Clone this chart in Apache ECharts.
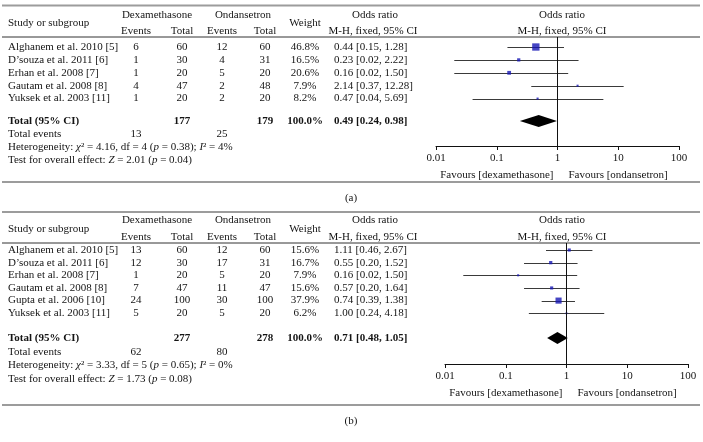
<!DOCTYPE html>
<html>
<head>
<meta charset="utf-8">
<script src="https://cdn.jsdelivr.net/npm/echarts@6/dist/echarts.min.js"></script>
<style>
  html, body { margin: 0; padding: 0; background: #fff; }
  #chart { width: 703px; height: 442px; }
</style>
</head>
<body>
<div id="chart"></div>
<script>
// ---- panel (a) ----
var studiesA   = ['Alghanem et al. 2010 [5]', 'D\u2019souza et al. 2011 [6]', 'Erhan et al. 2008 [7]', 'Gautam et al. 2008 [8]', 'Yuksek et al. 2003 [11]'];
var dexEventsA = [6, 1, 1, 4, 1];
var dexTotalA  = [60, 30, 20, 47, 20];
var ondEventsA = [12, 4, 5, 2, 2];
var ondTotalA  = [60, 31, 20, 48, 20];
var weightA    = [46.8, 16.5, 20.6, 7.9, 8.2];
var orA        = [0.44, 0.23, 0.16, 2.14, 0.47];
var loA        = [0.15, 0.02, 0.02, 0.37, 0.04];
var hiA        = [1.28, 2.22, 1.50, 12.28, 5.69];
var totalsA    = [177, 179];          // dex total, ond total
var eventsA    = [13, 25];            // total events
var pooledA    = [0.49, 0.24, 0.98];  // OR, lo, hi
var hetA       = ['4.16', '4', '0.38', '4'];  // chi2, df, p, I2
var effectA    = ['2.01', '0.04'];            // Z, p

// ---- panel (b) ----
var studiesB   = ['Alghanem et al. 2010 [5]', 'D\u2019souza et al. 2011 [6]', 'Erhan et al. 2008 [7]', 'Gautam et al. 2008 [8]', 'Gupta et al. 2006 [10]', 'Yuksek et al. 2003 [11]'];
var dexEventsB = [13, 12, 1, 7, 24, 5];
var dexTotalB  = [60, 30, 20, 47, 100, 20];
var ondEventsB = [12, 17, 5, 11, 30, 5];
var ondTotalB  = [60, 31, 20, 47, 100, 20];
var weightB    = [15.6, 16.7, 7.9, 15.6, 37.9, 6.2];
var orB        = [1.11, 0.55, 0.16, 0.57, 0.74, 1.00];
var loB        = [0.46, 0.20, 0.02, 0.20, 0.39, 0.24];
var hiB        = [2.67, 1.52, 1.50, 1.64, 1.38, 4.18];
var totalsB    = [277, 278];
var eventsB    = [62, 80];
var pooledB    = [0.71, 0.48, 1.05];
var hetB       = ['3.33', '5', '0.65', '0'];
var effectB    = ['1.73', '0.08'];

var tickLabels = ['0.01', '0.1', '1', '10', '100'];

var FAMILY = '"Liberation Serif", "DejaVu Serif", serif';
var FS = 11;
var INK = '#141414';

var graphics = [];
var grids = [], xAxes = [], yAxes = [], series = [];

function fmt(v) { return v.toFixed(2); }

function txt(x, y, s, align, bold) {
  graphics.push({
    type: 'text', x: x, y: y, silent: true,
    style: {
      text: s, fill: INK, fontFamily: FAMILY, fontSize: FS,
      fontWeight: bold ? 'bold' : 'normal',
      textAlign: align || 'left', textVerticalAlign: 'middle', verticalAlign: 'middle',
      rich: {
        it: { fontFamily: FAMILY, fontSize: FS, fontStyle: 'italic', fill: INK }
      }
    }
  });
}

function rule(y, color, w) {
  graphics.push({
    type: 'line', silent: true,
    shape: { x1: 2, y1: y, x2: 700, y2: y },
    style: { stroke: color, lineWidth: w }
  });
}

function panel(d, L, idx) {
  var rowY = function (i) { return L.y0 + i * L.step; };
  var n = d.studies.length;

  rule(L.top, '#9c9c9c', 2);
  rule(L.sep, '#333', 1);
  rule(L.bottom, '#9c9c9c', 2);

  // headers
  txt(8, L.hMid, 'Study or subgroup');
  txt(157, L.h1, 'Dexamethasone', 'center');
  txt(243, L.h1, 'Ondansetron', 'center');
  txt(136, L.h2, 'Events', 'center');
  txt(182, L.h2, 'Total', 'center');
  txt(222, L.h2, 'Events', 'center');
  txt(265, L.h2, 'Total', 'center');
  txt(305, L.hMid, 'Weight', 'center');
  txt(375, L.h1, 'Odds ratio', 'center');
  txt(373, L.h2, 'M-H, fixed, 95% CI', 'center');
  txt(562, L.h1, 'Odds ratio', 'center');
  txt(562, L.h2, 'M-H, fixed, 95% CI', 'center');

  // study rows
  for (var i = 0; i < n; i++) {
    var y = rowY(i);
    txt(8, y, d.studies[i]);
    txt(136, y, String(d.dexEvents[i]), 'center');
    txt(182, y, String(d.dexTotal[i]), 'center');
    txt(222, y, String(d.ondEvents[i]), 'center');
    txt(265, y, String(d.ondTotal[i]), 'center');
    txt(305, y, d.weight[i].toFixed(1) + '%', 'center');
    txt(334, y, fmt(d.or[i]) + ' [' + fmt(d.lo[i]) + ', ' + fmt(d.hi[i]) + ']');
  }

  // summary rows
  var ty = L.total;
  txt(8, ty, 'Total (95% CI)', 'left', true);
  txt(182, ty, String(d.totals[0]), 'center', true);
  txt(265, ty, String(d.totals[1]), 'center', true);
  txt(305, ty, '100.0%', 'center', true);
  txt(334, ty, fmt(d.pooled[0]) + ' [' + fmt(d.pooled[1]) + ', ' + fmt(d.pooled[2]) + ']', 'left', true);
  txt(8, ty + L.sstep, 'Total events');
  txt(136, ty + L.sstep, String(d.events[0]), 'center');
  txt(222, ty + L.sstep, String(d.events[1]), 'center');
  txt(8, ty + 2 * L.sstep, 'Heterogeneity: {it|\u03c7}\u00b2 = ' + d.het[0] + ', df = ' + d.het[1] +
      ' ({it|p} = ' + d.het[2] + '); {it|I}\u00b2 = ' + d.het[3] + '%');
  txt(8, ty + 3 * L.sstep, 'Test for overall effect: {it|Z} = ' + d.effect[0] + ' ({it|p} = ' + d.effect[1] + ')');

  txt(351, L.tag, L.label, 'center');

  // favours labels under the axis
  txt(L.gx + L.gw / 2 - 4, L.fav, 'Favours [dexamethasone]', 'right');
  txt(L.gx + L.gw / 2 + 11, L.fav, 'Favours [ondansetron]', 'left');

  // forest plot grid
  var gTop = L.sep, gBottom = L.axisY;
  grids.push({ left: L.gx, top: gTop, width: L.gw, height: gBottom - gTop });
  xAxes.push({
    gridIndex: idx, type: 'log', logBase: 10, min: 0.01, max: 100,
    axisLine: { onZero: false, lineStyle: { color: '#111', width: 1 } },
    axisTick: { length: 4, lineStyle: { color: '#111' } },
    splitLine: { show: false },
    axisLabel: {
      margin: 7, color: INK, fontFamily: FAMILY, fontSize: FS,
      formatter: function (v) { return tickLabels[Math.round(Math.log10(v)) + 2]; }
    }
  });
  yAxes.push({
    gridIndex: idx, type: 'value', inverse: true, show: false,
    min: (gTop - L.y0) / L.step, max: (gBottom - L.y0) / L.step
  });

  var ciData = [], sqData = [];
  for (var k = 0; k < n; k++) {
    ciData.push([d.or[k], k, d.lo[k], d.hi[k]]);
    sqData.push([d.or[k], k, d.weight[k]]);
  }
  var totalIdx = (L.total - L.y0) / L.step;

  series.push({
    type: 'custom', xAxisIndex: idx, yAxisIndex: idx, silent: true,
    data: ciData, encode: { x: [0, 2, 3], y: 1 },
    renderItem: function (params, api) {
      var y = api.value(1);
      var a = api.coord([api.value(2), y]);
      var b = api.coord([api.value(3), y]);
      return { type: 'line', shape: { x1: a[0], y1: Math.round(a[1]) + 0.5, x2: b[0], y2: Math.round(b[1]) + 0.5 },
               style: { stroke: '#3a3a3a', lineWidth: 1 } };
    },
    markLine: {
      silent: true, symbol: 'none', label: { show: false },
      lineStyle: { color: '#111', width: 1, type: 'solid' },
      data: [{ xAxis: 1 }]
    }
  });
  series.push({
    type: 'scatter', xAxisIndex: idx, yAxisIndex: idx, silent: true,
    symbol: 'rect',
    symbolSize: function (val) { return 1 + 0.135 * val[2]; },
    itemStyle: { color: '#1616b4' },
    data: sqData
  });
  series.push({
    type: 'custom', xAxisIndex: idx, yAxisIndex: idx, silent: true,
    data: [[d.pooled[0], totalIdx, d.pooled[1], d.pooled[2]]],
    renderItem: function (params, api) {
      var y = api.value(1);
      var c = api.coord([api.value(0), y]);
      var l = api.coord([api.value(2), y]);
      var r = api.coord([api.value(3), y]);
      var h = 6;
      return { type: 'polygon',
               shape: { points: [[l[0], c[1]], [c[0], c[1] - h], [r[0], c[1]], [c[0], c[1] + h]] },
               style: { fill: '#000' } };
    }
  });
}

panel({
  studies: studiesA, dexEvents: dexEventsA, dexTotal: dexTotalA, ondEvents: ondEventsA, ondTotal: ondTotalA,
  weight: weightA, or: orA, lo: loA, hi: hiA, totals: totalsA, events: eventsA, pooled: pooledA, het: hetA, effect: effectA
}, {
  top: 5.5, h1: 15, h2: 31, hMid: 23, sep: 37, y0: 47, step: 12.9,
  total: 121, sstep: 13, bottom: 182, tag: 198, label: '(a)',
  gx: 436, gw: 243, axisY: 146, fav: 175
}, 0);

panel({
  studies: studiesB, dexEvents: dexEventsB, dexTotal: dexTotalB, ondEvents: ondEventsB, ondTotal: ondTotalB,
  weight: weightB, or: orB, lo: loB, hi: hiB, totals: totalsB, events: eventsB, pooled: pooledB, het: hetB, effect: effectB
}, {
  top: 212, h1: 220, h2: 237, hMid: 229, sep: 243, y0: 250, step: 12.65,
  total: 338, sstep: 13.7, bottom: 405, tag: 421, label: '(b)',
  gx: 445, gw: 243, axisY: 364, fav: 393
}, 1);

var chart = echarts.init(document.getElementById('chart'));
chart.setOption({
  animation: false,
  backgroundColor: '#fff',
  grid: grids,
  xAxis: xAxes,
  yAxis: yAxes,
  series: series,
  graphic: graphics
});
</script>
</body>
</html>
